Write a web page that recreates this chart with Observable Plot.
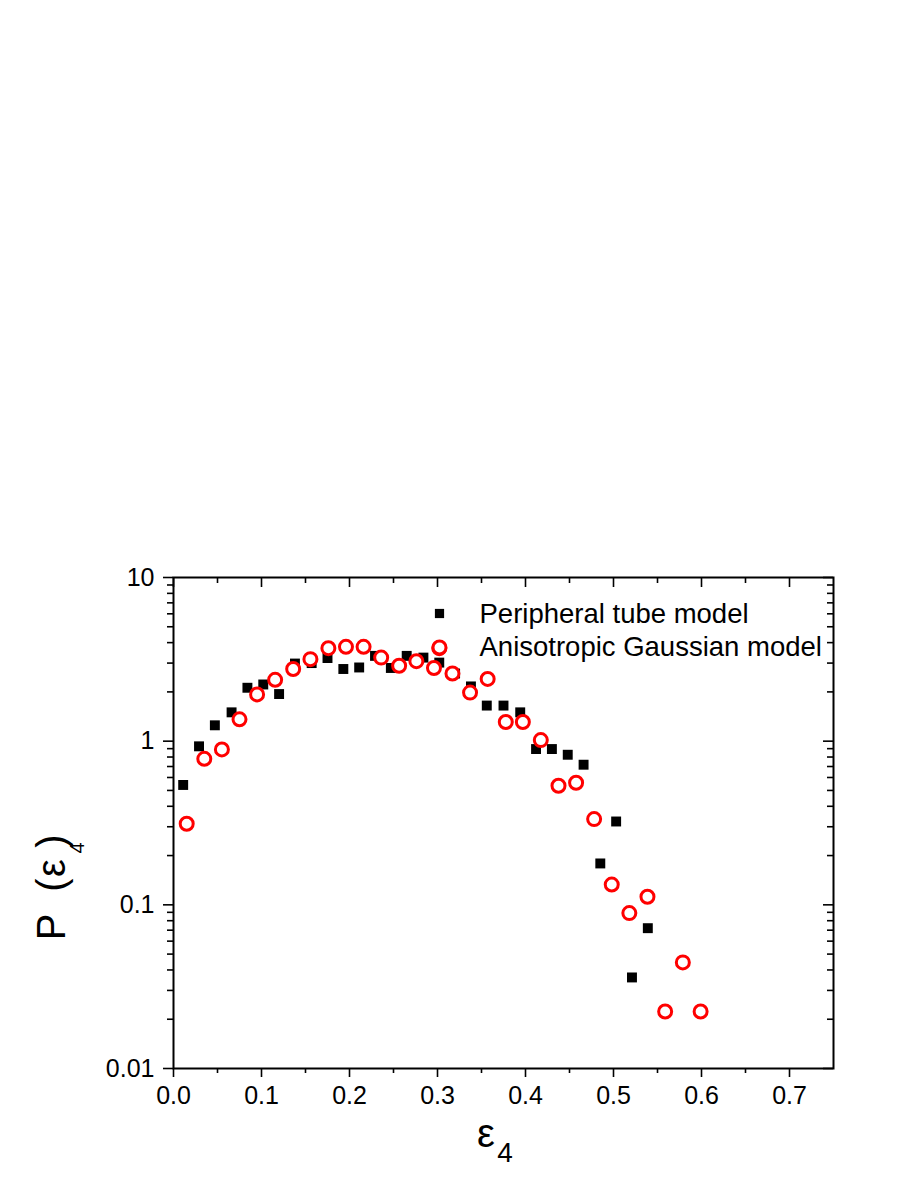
<!DOCTYPE html>
<html><head><meta charset="utf-8">
<script src="https://cdn.jsdelivr.net/npm/d3@7"></script>
<script src="https://cdn.jsdelivr.net/npm/@observablehq/plot@0.6"></script>
<style>body{margin:0;background:#fff} svg{display:block}</style>
</head><body><div id="chart"></div>
<script>
// ---- data ----
const epsTube = [0.011,0.029,0.047,0.066,0.084,0.102,0.120,0.138,0.157,0.175,0.193,0.211,0.229,0.247,0.265,0.284,0.302,0.320,0.338,0.356,0.375,0.394,0.412,0.430,0.448,0.466,0.485,0.503,0.521,0.539];
const pTube   = [0.54,0.93,1.25,1.50,2.12,2.22,1.94,2.98,3.00,3.22,2.76,2.82,3.32,2.80,3.32,3.24,3.02,2.59,2.16,1.65,1.65,1.50,0.895,0.895,0.826,0.718,0.179,0.323,0.036,0.072];
const epsGauss = [0.015,0.035,0.055,0.075,0.095,0.1155,0.136,0.1556,0.176,0.196,0.216,0.236,0.2564,0.276,0.296,0.302,0.317,0.337,0.357,0.3776,0.397,0.4174,0.4375,0.4575,0.478,0.498,0.518,0.5386,0.5587,0.5788,0.599];
const pGauss   = [0.313,0.78,0.89,1.36,1.93,2.37,2.76,3.17,3.70,3.77,3.77,3.24,2.89,3.08,2.80,3.70,2.59,1.98,2.40,1.31,1.31,1.015,0.534,0.557,0.334,0.133,0.089,0.112,0.0223,0.0445,0.0223];
const seriesNames = ["Peripheral tube model", "Anisotropic Gaussian model"];
const xMajor = [0,0.1,0.2,0.3,0.4,0.5,0.6,0.7];
const xMinor = [0.05,0.15,0.25,0.35,0.45,0.55,0.65];
const yMajor = [0.01,0.1,1,10];
const yMinor = [0.02,0.03,0.04,0.05,0.06,0.07,0.08,0.09,0.2,0.3,0.4,0.5,0.6,0.7,0.8,0.9,2,3,4,5,6,7,8,9];

// ---- layout ----
const W = 913, H = 1182, ML = 173, MR = 80, MT = 577, MB = 114;
const PW = W - ML - MR, PH = H - MT - MB;
const FONT = "'Liberation Sans', Arial, Helvetica, sans-serif";

const tube = epsTube.map((e, i) => ({e, p: pTube[i]}));
const gauss = epsGauss.map((e, i) => ({e, p: pGauss[i]}));

const chart = Plot.plot({
  width: W, height: H,
  marginLeft: ML, marginRight: MR, marginTop: MT, marginBottom: MB,
  style: {fontFamily: FONT, fontSize: "25px", background: "#fff", color: "#000", overflow: "visible"},
  x: {domain: [0, 0.75]},
  y: {type: "log", domain: [0.01, 10]},
  marks: [
    // bottom axis (outward ticks)
    Plot.axisX(xMajor, {anchor: "bottom", tickSize: 9, tickPadding: 9, tickFormat: d3.format(".1f"), fontSize: 25, strokeWidth: 1.6, label: null}),
    Plot.tickX(xMinor, {x: d => d, insetTop: PH, insetBottom: -5, stroke: "#000", strokeWidth: 1.6}),
    // top axis (inward ticks)
    Plot.tickX(xMajor, {x: d => d, insetBottom: PH - 10, stroke: "#000", strokeWidth: 1.6}),
    Plot.tickX(xMinor, {x: d => d, insetBottom: PH - 6, stroke: "#000", strokeWidth: 1.6}),
    // left axis (outward ticks)
    Plot.axisY(yMajor, {anchor: "left", tickSize: 10, tickPadding: 9, tickFormat: d => String(d), fontSize: 25, strokeWidth: 1.6, label: null}),
    Plot.tickY(yMinor, {y: d => d, insetLeft: -6, insetRight: PW, stroke: "#000", strokeWidth: 1.6}),
    // right axis (inward ticks)
    Plot.tickY(yMajor, {y: d => d, insetLeft: PW - 10, stroke: "#000", strokeWidth: 1.6}),
    Plot.tickY(yMinor, {y: d => d, insetLeft: PW - 6, stroke: "#000", strokeWidth: 1.6}),
    Plot.frame({stroke: "#000", strokeWidth: 2}),
    // data
    Plot.dot(tube, {x: "e", y: "p", symbol: "square", fill: "#000", r: 5.6}),
    Plot.dot(gauss, {x: "e", y: "p", symbol: "circle", stroke: "#ff0000", fill: "#fff", strokeWidth: 3, r: 6.5}),
    // legend
    Plot.dot([seriesNames[0]], {x: null, y: null, frameAnchor: "top-left", dx: 266, dy: 36, symbol: "square", fill: "#000", r: 5.2}),
    Plot.dot([seriesNames[1]], {x: null, y: null, frameAnchor: "top-left", dx: 266, dy: 70, symbol: "circle", stroke: "#ff0000", fill: "#fff", strokeWidth: 3, r: 6.5}),
    Plot.text([seriesNames[0]], {x: null, y: null, text: d => d, frameAnchor: "top-left", dx: 306, dy: 37, textAnchor: "start", lineAnchor: "middle", fontSize: 27.5, fill: "#000"}),
    Plot.text([seriesNames[1]], {x: null, y: null, text: d => d, frameAnchor: "top-left", dx: 306, dy: 70, textAnchor: "start", lineAnchor: "middle", fontSize: 27.5, fill: "#000"})
  ]
});

// axis titles with subscripts
const svg = d3.select(chart);
const xt = svg.append("text").attr("font-family", FONT).attr("fill", "#000");
xt.append("tspan").attr("x", 486).attr("y", 1147).attr("font-size", 40).text("ε");
xt.append("tspan").attr("x", 505).attr("y", 1161.5).attr("font-size", 28).text("4");

const yg = svg.append("g").attr("transform", "translate(65,925) rotate(-90)");
const yt = yg.append("text").attr("font-family", FONT).attr("fill", "#000").attr("font-size", 40);
yt.append("tspan").attr("x", -2).attr("y", 0).text("P");
yt.append("tspan").attr("x", 40).attr("y", 0).text("(");
yt.append("tspan").attr("x", 57).attr("y", 0).text("ε");
yt.append("tspan").attr("x", 77).attr("y", 19).attr("font-size", 20).text("4");
yt.append("tspan").attr("x", 84).attr("y", 0).text(")");

document.getElementById("chart").appendChild(chart);
</script></body></html>
